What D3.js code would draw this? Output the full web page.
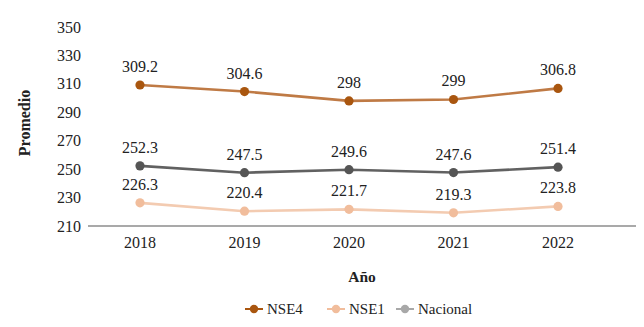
<!DOCTYPE html>
<html>
<head>
<meta charset="utf-8">
<script src="https://cdn.jsdelivr.net/npm/d3@7"></script>
<style>
  body { margin: 0; background: #fff; }
</style>
</head>
<body>
<div id="chart"></div>
<script>
'use strict';

// data
const years = ["2018", "2019", "2020", "2021", "2022"];
const nse4 = [309.2, 304.6, 298, 299, 306.8];
const nse1 = [226.3, 220.4, 221.7, 219.3, 223.8];
const nacional = [252.3, 247.5, 249.6, 247.6, 251.4];
const yTicks = [210, 230, 250, 270, 290, 310, 330, 350];

const series = [
  {name: "Nacional", values: nacional, line: "#616161", dot: "#555555", legend: "#a8a8a8"},
  {name: "NSE1", values: nse1, line: "#f3cbb1", dot: "#f1bd9c", legend: "#f1bd9c"},
  {name: "NSE4", values: nse4, line: "#bf7a45", dot: "#a9560f", legend: "#a9560f"}
];
const legendOrder = ["NSE4", "NSE1", "Nacional"];

const W = 644, H = 327;
var margin = {top: 27, right: 8, bottom: 101, left: 88};
const FONT = "'Liberation Serif'";

var svg = d3.select("#chart").append("svg")
  .attr("width", W)
  .attr("height", H);

// every label goes through here so the serif face sticks
function label(sel, size) {
  return sel
    .attr("font-family", FONT)
    .attr("font-size", size)
    .attr("fill", "#222");
}

var x = d3.scalePoint()
  .domain(years)
  .range([140, 558]);

var y = d3.scaleLinear()
  .domain([210, 350])
  .range([226, 27]);

// y tick labels (no axis line)
svg.append("g")
  .selectAll("text")
  .data(yTicks)
  .enter().append("text")
  .attr("x", 81)
  .attr("y", d => y(d))
  .attr("dy", "0.35em")
  .attr("text-anchor", "end")
  .call(label, 16)
  .text(d => d);

// x axis base line
svg.append("line")
  .attr("x1", margin.left)
  .attr("x2", W - margin.right)
  .attr("y1", y(210))
  .attr("y2", y(210))
  .style("stroke", "#8c8c8c")
  .style("stroke-width", 1.3);

svg.append("g")
  .selectAll("text")
  .data(years)
  .enter().append("text")
  .attr("x", d => x(d))
  .attr("y", 248)
  .attr("text-anchor", "middle")
  .call(label, 16)
  .text(d => d);

// axis titles
svg.append("text")
  .attr("transform", "translate(30,123) rotate(-90)")
  .attr("text-anchor", "middle")
  .call(label, 16)
  .attr("font-weight", "bold")
  .text("Promedio");

svg.append("text")
  .attr("x", 362)
  .attr("y", 282)
  .attr("text-anchor", "middle")
  .call(label, 15.5)
  .attr("font-weight", "bold")
  .text("Año");

var line = d3.line()
  .x((d, i) => x(years[i]))
  .y(d => y(d));

series.forEach(function(s) {
  var g = svg.append("g");
  g.append("path")
    .datum(s.values)
    .attr("d", line)
    .style("fill", "none")
    .style("stroke", s.line)
    .style("stroke-width", 2.6);
  g.selectAll("circle")
    .data(s.values)
    .enter().append("circle")
    .attr("cx", (d, i) => x(years[i]))
    .attr("cy", d => y(d))
    .attr("r", 4.6)
    .style("fill", s.dot);
  g.selectAll("text.lbl")
    .data(s.values)
    .enter().append("text")
    .attr("class", "lbl")
    .attr("x", (d, i) => x(years[i]))
    .attr("y", d => y(d) - 13)
    .attr("text-anchor", "middle")
    .call(label, 16)
    .text(d => d);
});

// legend
var legX = [245, 327, 396];
legendOrder.forEach(function(name, i) {
  var s = series.find(d => d.name === name);
  var g = svg.append("g").attr("transform", "translate(" + legX[i] + ",309)");
  g.append("line")
    .attr("x1", 0).attr("x2", 18)
    .style("stroke", s.legend)
    .style("stroke-width", 2);
  g.append("circle")
    .attr("cx", 9)
    .attr("r", 4.2)
    .style("fill", s.legend);
  g.append("text")
    .attr("x", 22)
    .attr("dy", "0.35em")
    .call(label, 15)
    .text(name);
});
</script>
</body>
</html>
